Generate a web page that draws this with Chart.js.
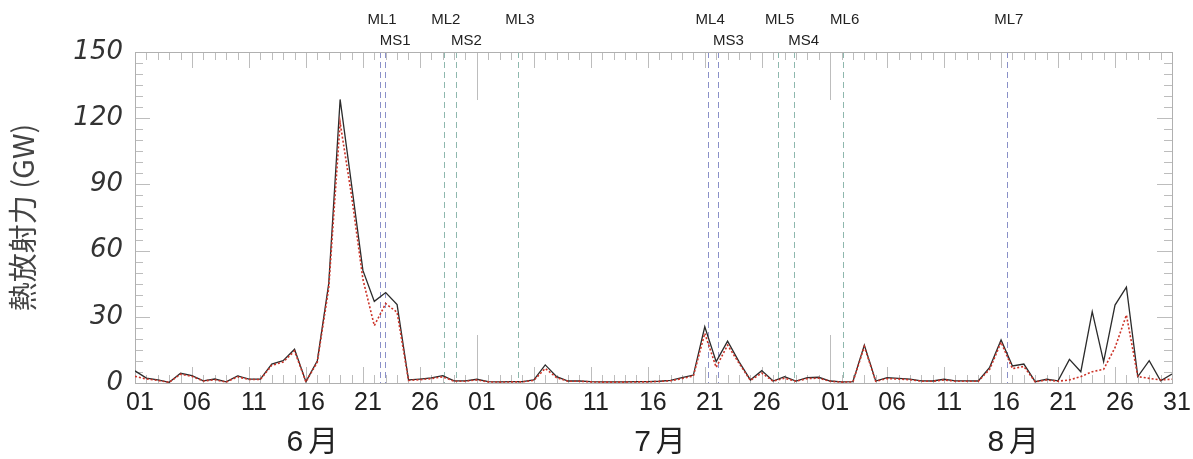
<!DOCTYPE html>
<html>
<head>
<meta charset="utf-8">
<script src="https://cdn.jsdelivr.net/npm/chart.js@4.4.1/dist/chart.umd.min.js"></script>
<style>
  html, body { margin: 0; padding: 0; background: #fff; }
  #wrap { width: 1193px; height: 459px; position: relative; }
</style>
</head>
<body>
<div id="wrap"><canvas id="frp"></canvas></div>
<script>
// daily FRP, 1 Jun - 31 Aug (index 0 = 6/01)
const frpTotal = [
  5.5, 2.2, 1.4, 0.3, 4.4, 3.3, 1.0, 1.8, 0.5, 3.2,
  1.8, 1.8, 8.6, 10.1, 15.3, 0.6, 10.1, 45, 128.5, 90,
  51, 37, 41, 35.5, 1.4, 1.8, 2.3, 3.3, 1.0, 1.0,
  1.7, 0.6, 0.5, 0.6, 0.6, 1.4, 8.2, 2.9, 0.9, 0.9,
  0.6, 0.5, 0.5, 0.5, 0.6, 0.6, 0.8, 1.2, 2.4, 3.6,
  25.5, 9.7, 19, 9.7, 1.4, 5.6, 0.9, 2.9, 0.9, 2.4,
  2.6, 0.9, 0.5, 0.6, 17.2, 0.9, 2.4, 2.1, 1.8, 1.0,
  0.9, 1.7, 1.0, 1.0, 0.9, 7.1, 19.5, 7.7, 8.6, 0.6,
  1.7, 1.0, 10.7, 5.1, 32.3, 9.7, 35.3, 43.4, 2.9, 10.1,
  1.0, 4.1
];
const frpCore = [
  3.0, 1.8, 1.2, 0.3, 4.0, 3.0, 0.9, 1.5, 0.4, 2.8,
  1.6, 1.6, 8.0, 9.5, 14.5, 0.5, 9.5, 43, 118, 85,
  47, 26, 36, 32, 1.2, 1.5, 2.0, 2.8, 0.8, 0.8,
  1.4, 0.5, 0.4, 0.5, 0.5, 1.2, 6.6, 2.4, 0.8, 0.8,
  0.5, 0.4, 0.4, 0.4, 0.5, 0.5, 0.7, 1.0, 2.0, 3.2,
  22.5, 7.1, 17.2, 9.0, 1.2, 4.5, 0.8, 2.2, 0.8, 2.0,
  2.2, 0.8, 0.4, 0.5, 16.5, 0.8, 2.0, 1.8, 1.5, 0.8,
  0.8, 1.4, 0.8, 0.8, 0.8, 6.2, 18.5, 6.5, 7.5, 0.5,
  1.4, 0.8, 1.4, 2.9, 5.1, 6.2, 16, 30.8, 2.9, 2.1,
  1.4, 1.7
];

// labelled day ticks
const tickDays   = [0, 5, 10, 15, 20, 25, 30, 35, 40, 45, 50, 55, 61, 66, 71, 76, 81, 86, 91];
const tickLabels = ["01", "06", "11", "16", "21", "26", "01", "06", "11", "16", "21", "26",
                    "01", "06", "11", "16", "21", "26", "31"];
const monthNames  = ["6月", "7月", "8月"];
const monthStarts = [0, 30, 61, 92];

// events (day index, fractional)
const eventNames = ["ML1", "MS1", "ML2", "MS2", "ML3", "ML4", "MS3", "ML5", "MS4", "ML6", "ML7"];
const eventDays  = [21.5, 21.95, 27.1, 28.2, 33.6, 50.3, 51.2, 56.4, 57.8, 62.1, 76.5];
const eventGroup = ["a", "a", "b", "b", "b", "a", "a", "b", "b", "b", "a"];

const groupColor = { a: "#8a90c8", b: "#8fb8ae" };

const axisDecor = {
  id: "axisDecor",
  beforeDatasetsDraw(chart) {
    const { ctx, chartArea: a, scales: { x, y } } = chart;
    ctx.save();
    // event lines
    ctx.lineWidth = 1;
    ctx.setLineDash([6, 4]);
    eventDays.forEach((d, i) => {
      const px = Math.round(x.getPixelForValue(d)) + 0.5;
      ctx.strokeStyle = groupColor[eventGroup[i]];
      ctx.beginPath();
      ctx.moveTo(px, a.top);
      ctx.lineTo(px, a.bottom);
      ctx.stroke();
    });
    ctx.setLineDash([]);
    // day ticks, top and bottom
    ctx.strokeStyle = "#bdbdbd";
    for (let d = 0; d <= 91; d++) {
      const px = Math.round(x.getPixelForValue(d)) + 0.5;
      let len = 8;
      if (tickDays.includes(d)) len = 16;
      if (monthStarts.includes(d)) len = 48;
      ctx.beginPath();
      ctx.moveTo(px, a.bottom);
      ctx.lineTo(px, a.bottom - len);
      ctx.moveTo(px, a.top);
      ctx.lineTo(px, a.top + len);
      ctx.stroke();
    }
    // value ticks, left and right
    for (let v = 0; v <= 150; v += 5) {
      const py = Math.round(y.getPixelForValue(v)) + 0.5;
      const len = v % 30 === 0 ? 15 : 8;
      ctx.beginPath();
      ctx.moveTo(a.left, py);
      ctx.lineTo(a.left + len, py);
      ctx.moveTo(a.right, py);
      ctx.lineTo(a.right - len, py);
      ctx.stroke();
    }
    ctx.strokeStyle = "#b0b0b0";
    ctx.strokeRect(Math.round(a.left) + 0.5, Math.round(a.top) + 0.5,
                   Math.round(a.right - a.left), Math.round(a.bottom - a.top));
    ctx.restore();
  },
  afterDraw(chart) {
    const { ctx, scales: { x } } = chart;
    ctx.save();
    ctx.fillStyle = "#222";
    ctx.textAlign = "center";
    ctx.textBaseline = "middle";
    // event names
    ctx.font = "15px 'Liberation Sans', sans-serif";
    eventNames.forEach((n, i) => {
      const lower = n.startsWith("MS");
      const px = x.getPixelForValue(eventDays[i]) + (lower ? 10 : 2);
      ctx.fillText(n, px, lower ? 41 : 20);
    });
    // month names
    ctx.font = "30px 'Liberation Sans', 'Noto Sans CJK JP', sans-serif";
    ctx.letterSpacing = "5px";
    monthNames.forEach((m, i) => {
      const mid = (monthStarts[i] + monthStarts[i + 1]) / 2;
      ctx.fillText(m, x.getPixelForValue(mid) + 9, 443);
    });
    ctx.restore();
  }
};

new Chart(document.getElementById("frp"), {
  type: "line",
  data: {
    datasets: [
      {
        data: frpCore.map((v, i) => ({ x: i, y: v })),
        borderColor: "#cc3328",
        borderWidth: 1.6,
        borderDash: [2, 2],
        pointRadius: 0,
        order: 0
      },
      {
        data: frpTotal.map((v, i) => ({ x: i, y: v })),
        borderColor: "#2b2b2b",
        borderWidth: 1.3,
        pointRadius: 0,
        order: 1
      }
    ]
  },
  options: {
    responsive: true,
    maintainAspectRatio: false,
    animation: false,
    devicePixelRatio: 1,
    layout: { padding: { top: 52, right: 21, left: 0, bottom: 0 } },
    plugins: { legend: { display: false }, tooltip: { enabled: false } },
    scales: {
      x: {
        type: "linear",
        min: 0,
        max: 91,
        afterFit(s) { s.height = 76; },
        afterBuildTicks(s) { s.ticks = tickDays.map(v => ({ value: v })); },
        grid: { display: false, drawTicks: false },
        border: { display: false },
        ticks: {
          autoSkip: false,
          maxRotation: 0,
          padding: 5,
          labelOffset: 5,
          color: "#222",
          font: { family: "'Liberation Sans', sans-serif", size: 25 },
          callback: (v, i) => tickLabels[i]
        }
      },
      y: {
        min: 0,
        max: 150,
        afterFit(s) { s.width = 135; },
        grid: { display: false, drawTicks: false },
        border: { display: false },
        ticks: {
          stepSize: 30,
          padding: 12,
          color: "#333",
          font: { family: "'DejaVu Sans', sans-serif", style: "italic", size: 26 }
        },
        title: {
          display: true,
          text: "熱放射力 (GW)",
          color: "#444",
          padding: { top: 6, bottom: 0 },
          font: { family: "'Noto Sans CJK JP', 'Liberation Sans', sans-serif", size: 29 }
        }
      }
    }
  },
  plugins: [axisDecor]
});
</script>
</body>
</html>
